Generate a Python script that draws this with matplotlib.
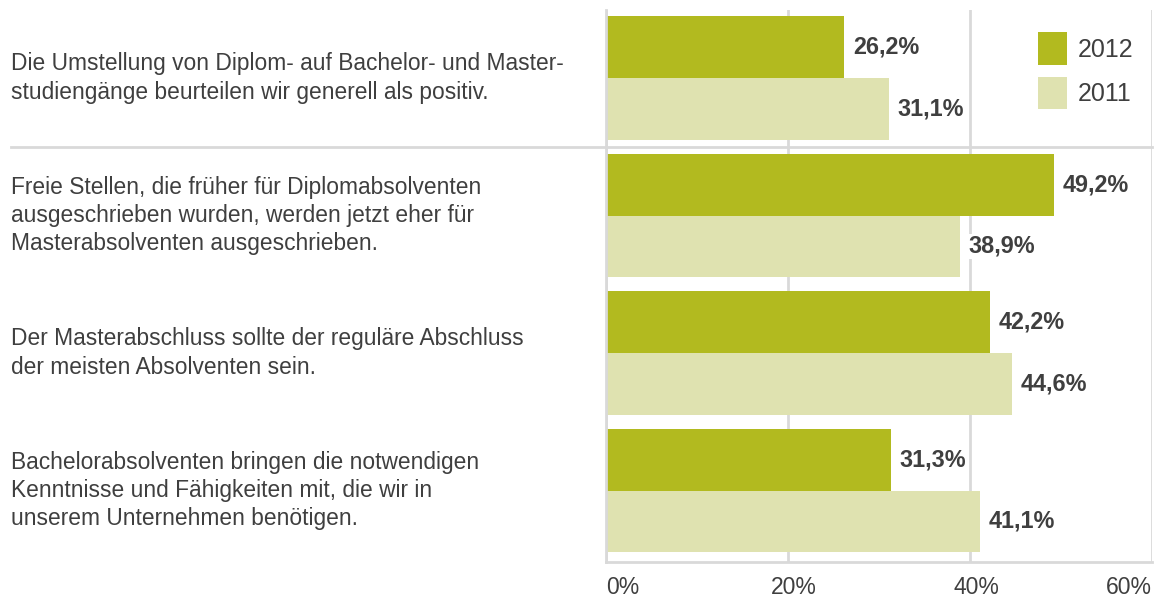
import numpy as np
import matplotlib
matplotlib.use("Agg")
import matplotlib.pyplot as plt
import matplotlib.transforms as mtransforms

# daten
aussagen = [
    "Die Umstellung von Diplom- auf Bachelor- und Master-\nstudiengänge beurteilen wir generell als positiv.",
    "Freie Stellen, die früher für Diplomabsolventen\nausgeschrieben wurden, werden jetzt eher für\nMasterabsolventen ausgeschrieben.",
    "Der Masterabschluss sollte der reguläre Abschluss\nder meisten Absolventen sein.",
    "Bachelorabsolventen bringen die notwendigen\nKenntnisse und Fähigkeiten mit, die wir in\nunserem Unternehmen benötigen.",
]
werte_2012 = [26.2, 49.2, 42.2, 31.3]
werte_2011 = [31.1, 38.9, 44.6, 41.1]
jahre = ["2012", "2011"]
ticks = [0, 20, 40, 60]
tick_labels = ["0%", "20%", "40%", "60%"]

dunkel = "#B2BA1F"
hell = "#DFE2B0"
grau = "#D9D9D9"
text = "#3F3F3F"

plt.rcParams['font.family'] = ['Liberation Sans', 'DejaVu Sans']

fig = plt.figure(figsize=(11.65, 6.01), dpi=100)
ax = fig.add_axes([0.5202, 0.0649, 0.4686, 0.9185])

y = np.arange(len(aussagen))
h = 0.45
b1 = ax.barh(y - h/2, werte_2012, height=h, color=dunkel, label=jahre[0], zorder=2)
b2 = ax.barh(y + h/2, werte_2011, height=h, color=hell, label=jahre[1], zorder=2)

for bars, werte in [(b1, werte_2012), (b2, werte_2011)]:
    for r, v in zip(bars, werte):
        ax.text(v + 0.95, r.get_y() + r.get_height()/2, ("%.1f" % v).replace(".", ",") + "%",
                va="center", ha="left", fontsize=16.8, fontweight="bold", color=text,
                bbox=dict(facecolor="white", edgecolor="none", pad=1), zorder=3)

ax.set_xlim(0, 60)
ax.set_ylim(3.52, -0.495)
ax.set_xticks(ticks)
ax.set_xticklabels(tick_labels, fontsize=16.5, color=text)
ax.tick_params(axis="x", length=0, pad=10)
ax.set_yticks([])
labs = ax.get_xticklabels()
labs[0].set_ha("left")
labs[-1].set_ha("right")
# mittlere beschriftungen etwas nach rechts
versatz = mtransforms.ScaledTranslation(6/100, 0, fig.dpi_scale_trans)
for l in labs[1:-1]:
    l.set_transform(l.get_transform() + versatz)
ax.grid(axis="x", color=grau, linewidth=2, zorder=0)
for s in ["top", "right"]:
    ax.spines[s].set_visible(False)
for s in ["left", "bottom"]:
    ax.spines[s].set_color(grau)
    ax.spines[s].set_linewidth(2)

# linke texte
for i, t in enumerate(aussagen):
    ax.text(-1.09, i, t, transform=ax.get_yaxis_transform(), ha="left", va="center",
            fontsize=16.4, color=text, linespacing=1.3)

# trennlinie
ax.plot([-1.09, 1.0], [0.5, 0.5], transform=ax.get_yaxis_transform(),
        color=grau, linewidth=2, clip_on=False, zorder=1)

ax.legend(loc="upper right", bbox_to_anchor=(1.008, 1.0), frameon=False, fontsize=18,
          handlelength=1.15, handleheight=1.6, labelspacing=0.5, labelcolor=text,
          handletextpad=0.45)

fig.savefig("out.png", dpi=100)
